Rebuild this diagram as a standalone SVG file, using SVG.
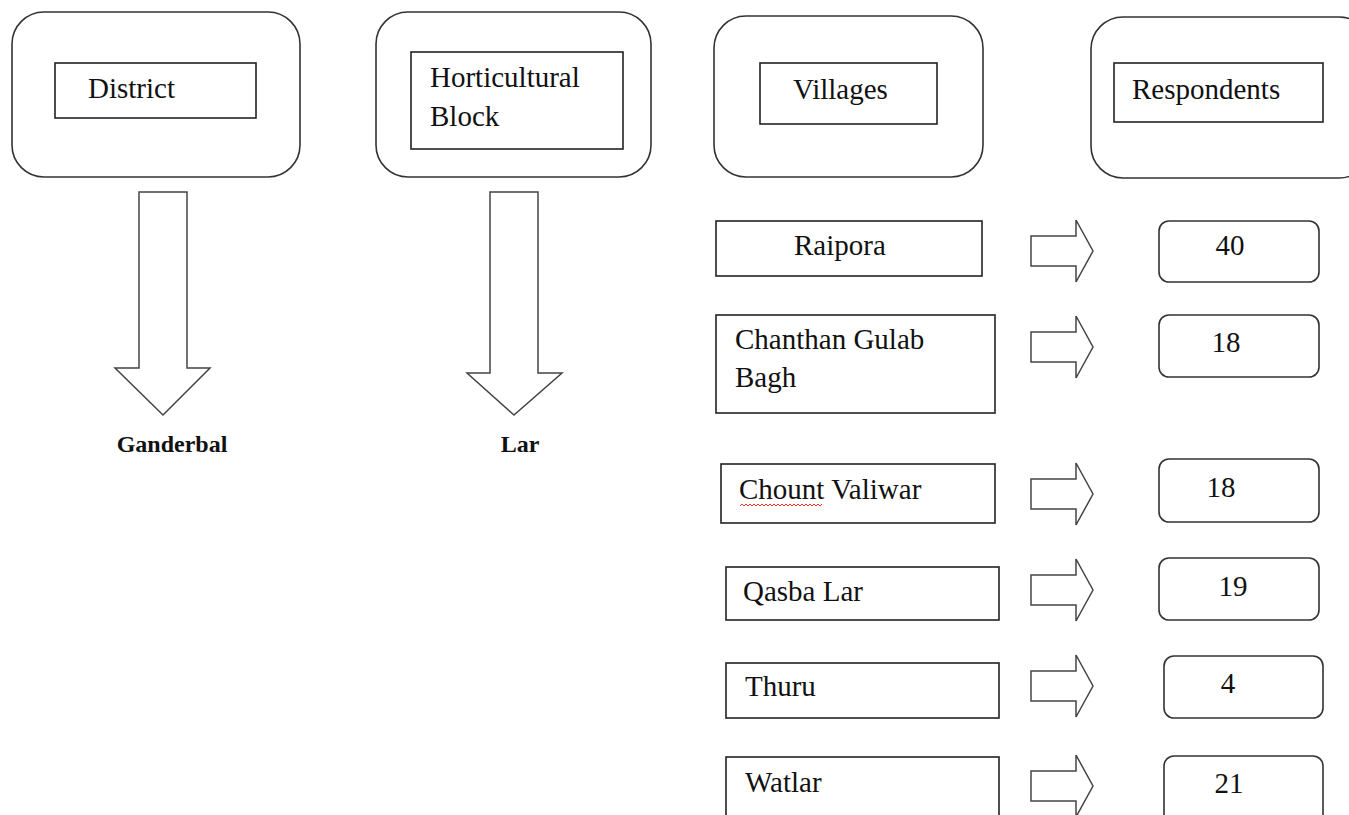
<svg xmlns="http://www.w3.org/2000/svg" width="1349" height="815" viewBox="0 0 1349 815">
<style>
.outer{fill:#fff;stroke:#333;stroke-width:1.6}
.box{fill:#fff;stroke:#222;stroke-width:1.6}
.rbox{fill:#fff;stroke:#333;stroke-width:1.6}
.arr{fill:#fff;stroke:#444;stroke-width:1.5;stroke-linejoin:miter}
text{font-family:'Liberation Serif','DejaVu Serif',serif;fill:#111}
.t{font-size:29px}
.b{font-size:24px;font-weight:bold}
</style>
<defs>
<path id="ra" d="M0,-15 H45 V-31 L62,0 L45,31 V15 H0 Z"/>
</defs>
<rect width="1349" height="815" fill="#fff"/>

<g id="district">
<rect class="outer" x="12" y="12" width="288" height="165" rx="32"/>
<rect class="box" x="55" y="63" width="201" height="55"/>
<text class="t" x="88" y="98" font-family="Liberation Serif">District</text>
</g>
<g id="block">
<rect class="outer" x="376" y="12" width="275" height="165" rx="32"/>
<rect class="box" x="411" y="52" width="212" height="97"/>
<text class="t" x="430" y="87">Horticultural</text>
<text class="t" x="430" y="126">Block</text>
</g>
<g id="villages">
<rect class="outer" x="714" y="16" width="269" height="161" rx="32"/>
<rect class="box" x="760" y="63" width="177" height="61"/>
<text class="t" x="793" y="99">Villages</text>
</g>
<g id="respondents">
<rect class="outer" x="1091" y="17" width="280" height="161" rx="32"/>
<rect class="box" x="1114" y="63" width="209" height="59"/>
<text class="t" x="1132" y="99">Respondents</text>
</g>

<g id="ganderbal">
<text class="b" x="172" y="452" text-anchor="middle">Ganderbal</text>
</g>
<g id="lar">
<text class="b" x="520" y="452" text-anchor="middle">Lar</text>
</g>

<g id="raipora">
<rect class="box" x="716" y="221" width="266" height="55"/>
<text class="t" x="794" y="255">Raipora</text>
</g>
<g id="chanthan">
<rect class="box" x="716" y="315" width="279" height="98"/>
<text class="t" x="735" y="349">Chanthan Gulab</text>
<text class="t" x="735" y="387">Bagh</text>
</g>
<g id="chount">
<rect class="box" x="721" y="464" width="274" height="59"/>
<text class="t" x="739" y="499">Chount Valiwar</text>
<path d="M740,506 l2,-2 l2,2 l2,-2 l2,2 l2,-2 l2,2 l2,-2 l2,2 l2,-2 l2,2 l2,-2 l2,2 l2,-2 l2,2 l2,-2 l2,2 l2,-2 l2,2 l2,-2 l2,2 l2,-2 l2,2 l2,-2 l2,2 l2,-2 l2,2 l2,-2 l2,2 l2,-2 l2,2 l2,-2 l2,2 l2,-2 l2,2 l2,-2 l2,2 l2,-2 l2,2 l2,-2 l2,2 l2,-2" fill="none" stroke="#e33" stroke-width="1"/>
</g>
<g id="qasba">
<rect class="box" x="726" y="567" width="273" height="53"/>
<text class="t" x="743" y="601">Qasba Lar</text>
</g>
<g id="thuru">
<rect class="box" x="726" y="663" width="273" height="55"/>
<text class="t" x="745" y="696">Thuru</text>
</g>
<g id="watlar">
<rect class="box" x="726" y="757" width="273" height="70"/>
<text class="t" x="745" y="792">Watlar</text>
</g>

<g id="r40">
<rect class="rbox" x="1159" y="221" width="160" height="61" rx="10"/>
<text class="t" x="1230" y="255" text-anchor="middle">40</text>
</g>
<g id="r18a">
<rect class="rbox" x="1159" y="315" width="160" height="62" rx="10"/>
<text class="t" x="1226" y="352" text-anchor="middle">18</text>
</g>
<g id="r18b">
<rect class="rbox" x="1159" y="459" width="160" height="63" rx="10"/>
<text class="t" x="1221" y="497" text-anchor="middle">18</text>
</g>
<g id="r19">
<rect class="rbox" x="1159" y="558" width="160" height="62" rx="10"/>
<text class="t" x="1233" y="596" text-anchor="middle">19</text>
</g>
<g id="r4">
<rect class="rbox" x="1164" y="656" width="159" height="62" rx="10"/>
<text class="t" x="1228" y="693" text-anchor="middle">4</text>
</g>
<g id="r21">
<rect class="rbox" x="1164" y="756" width="159" height="70" rx="10"/>
<text class="t" x="1229" y="793" text-anchor="middle">21</text>
</g>

<g id="connectors">
<polygon class="arr" points="139,192 187,192 187,368 210,368 163,415 115,368 139,368"/>
<polygon class="arr" points="490,192 538,192 538,373 562,373 514,415 467,373 490,373"/>
<use href="#ra" class="arr" x="1031" y="251"/>
<use href="#ra" class="arr" x="1031" y="347"/>
<use href="#ra" class="arr" x="1031" y="494"/>
<use href="#ra" class="arr" x="1031" y="590"/>
<use href="#ra" class="arr" x="1031" y="686"/>
<use href="#ra" class="arr" x="1031" y="786"/>
</g>
</svg>
